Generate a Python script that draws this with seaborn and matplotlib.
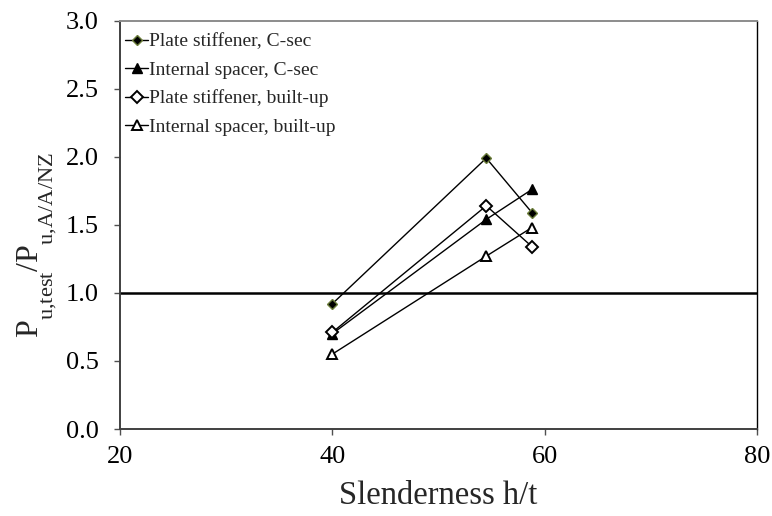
import matplotlib
matplotlib.use("Agg")
import matplotlib.pyplot as plt
import seaborn as sns
import pandas as pd

# Slenderness ratios of the tested sections
slenderness = [40.0, 54.5, 58.8]

# Test-to-design strength ratios for each stiffening arrangement
plate_csec = [0.92, 1.99, 1.59]
spacer_csec = [0.70, 1.54, 1.76]
plate_builtup = [0.71, 1.64, 1.34]
spacer_builtup = [0.55, 1.27, 1.48]

series_names = [
    "Plate stiffener, C-sec",
    "Internal spacer, C-sec",
    "Plate stiffener, built-up",
    "Internal spacer, built-up",
]
series_values = [plate_csec, spacer_csec, plate_builtup, spacer_builtup]

x_ticks = [20, 40, 60, 80]
y_ticks = [0.0, 0.5, 1.0, 1.5, 2.0, 2.5, 3.0]

sns.set_theme(style="white")
plt.rcParams["font.family"] = ["Liberation Serif", "DejaVu Serif"]
plt.rcParams["mathtext.fontset"] = "custom"
plt.rcParams["mathtext.rm"] = "Liberation Serif"
plt.rcParams["mathtext.it"] = "Liberation Serif"

# Deeper subscripts, in the style of word-processor formatting
try:
    import matplotlib._mathtext as _mt
    _mt.FontConstantsBase.sub1 = 1.0
    _mt.FontConstantsBase.subdrop = 1.0
except Exception:
    pass

frames = []
for name, vals in zip(series_names, series_values):
    frames.append(pd.DataFrame({"h/t": slenderness, "ratio": vals, "series": name}))
df = pd.concat(frames, ignore_index=True)

styles = {
    "Plate stiffener, C-sec": dict(marker="D", mfc="black", mec="#6b7d3a", ms=5.5, mew=1.0),
    "Internal spacer, C-sec": dict(marker="^", mfc="black", mec="black", ms=7.0, mew=1.0),
    "Plate stiffener, built-up": dict(marker="D", mfc="white", mec="black", ms=6.0, mew=1.4),
    "Internal spacer, built-up": dict(marker="^", mfc="white", mec="black", ms=7.5, mew=1.4),
}

fig = plt.figure(figsize=(7.72, 5.16), dpi=100)
ax = fig.add_axes([0.1554, 0.1686, 0.8252, 0.7914])

for name in series_names:
    sub = df[df["series"] == name]
    st = styles[name]
    sns.lineplot(
        data=sub, x="h/t", y="ratio", ax=ax, sort=False, color="black",
        linewidth=1.0, marker=st["marker"], markerfacecolor=st["mfc"],
        markeredgecolor=st["mec"], markersize=st["ms"], markeredgewidth=st["mew"],
        label=name, zorder=3,
    )

ax.axhline(1.0, color="black", linewidth=1.8, zorder=2)

ax.set_xlim(20, 80)
ax.set_ylim(0, 3.0)
ax.set_xticks(x_ticks)
ax.set_xticklabels([str(t) for t in x_ticks])
ax.set_yticks(y_ticks)
ax.set_yticklabels([f"{t:.1f}" for t in y_ticks])
ax.tick_params(axis="both", which="major", direction="out", length=4.5, width=1.0,
               colors="#505050", labelcolor="black", labelsize=19,
               bottom=True, left=True, top=False, right=False)
ax.tick_params(axis="x", pad=8)
ax.tick_params(axis="y", pad=11)

ax.set_xlabel("Slenderness h/t", fontsize=23.5)
ax.set_ylabel(r"$\mathregular{P_{u{,}test}/P_{u{,}A/A/NZ}}$", fontsize=23)
ax.xaxis.set_label_coords(0.5, -0.127)
ax.yaxis.set_label_coords(-0.098, 0.45)

for side in ["left", "bottom"]:
    ax.spines[side].set_color("#404040")
    ax.spines[side].set_linewidth(1.4)
ax.spines["top"].set_color("#8c8c8c")
ax.spines["top"].set_linewidth(1.4)
ax.spines["right"].set_color("black")
ax.spines["right"].set_linewidth(1.0)
ax.grid(False)

leg = ax.legend(loc="upper left", bbox_to_anchor=(0.008, 0.97), frameon=False,
                fontsize=14, handlelength=1.2, handletextpad=0.05,
                borderaxespad=0.0, labelspacing=0.55, borderpad=0.0)

fig.savefig("out.png", dpi=100)
